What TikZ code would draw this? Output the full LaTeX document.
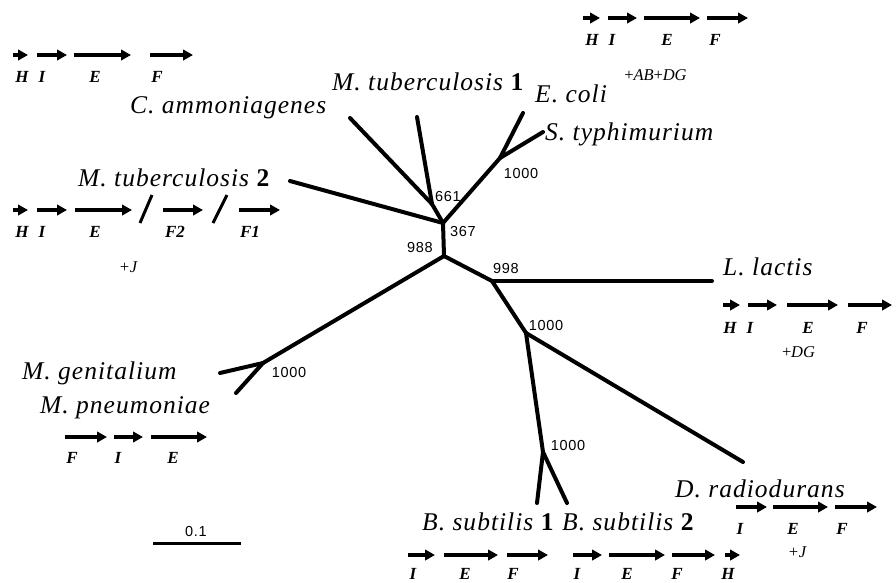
\documentclass[tikz,border=0pt]{standalone}
\usepackage{fontspec}
\setmainfont{Liberation Serif}
\newfontfamily\helv{Liberation Sans}
\usetikzlibrary{arrows.meta}
\newcommand{\spfont}{\fontsize{25.5}{25.5}\selectfont\itshape\addfontfeature{LetterSpace=4}}
\newcommand{\bootfont}{\helv\fontsize{14.5}{14.5}\selectfont\addfontfeature{LetterSpace=5}}
\newcommand{\genefont}{\fontsize{17}{17}\selectfont\bfseries\itshape}
\newcommand{\nb}[1]{\upshape\bfseries #1}
\begin{document}
\begin{tikzpicture}[x=1pt,y=-1pt,
  branch/.style={line width=4pt,line cap=round,line join=round},
  gene/.style={line width=3.6pt,-{Triangle[length=10pt,width=10.5pt]}},
  species/.style={font=\spfont,anchor=base west,inner sep=0pt},
  boot/.style={font=\bootfont,inner sep=0pt},
  glabel/.style={font=\genefont,inner sep=0pt},
  extra/.style={font=\fontsize{16.5}{16.5}\selectfont\itshape,inner sep=0pt}]
\useasboundingbox[fill=white] (0,0) rectangle (896,582);

% ---- tree: internal nodes ----
\coordinate (nA) at (443,223);   % 367
\coordinate (nB) at (444,256);   % 988
\coordinate (nM) at (432,204);   % 661
\coordinate (nE) at (500,158);   % E. coli / S. typhimurium
\coordinate (nL) at (492,281);   % 998
\coordinate (nD) at (526,333);   % 1000
\coordinate (nS) at (543,452);   % B. subtilis
\coordinate (nG) at (263,363);   % Mycoplasma
% ---- tree: leaves ----
\coordinate (lCa) at (350,118);
\coordinate (lMt1) at (417,117);
\coordinate (lMt2) at (290,181);
\coordinate (lEc) at (523,113);
\coordinate (lSt) at (543,132);
\coordinate (lLl) at (712,281);
\coordinate (lDr) at (743,462);
\coordinate (lBs1) at (537,503);
\coordinate (lBs2) at (567,503);
\coordinate (lMg) at (220,373);
\coordinate (lMp) at (236,393);

\draw[branch] (lCa) -- (nM);
\draw[branch] (lMt1) -- (nM);
\draw[branch] (nM) -- (nA);
\draw[branch] (lMt2) -- (nA);
\draw[branch] (nA) -- (nE);
\draw[branch] (nE) -- (lEc);
\draw[branch] (nE) -- (lSt);
\draw[branch] (nA) -- (nB);
\draw[branch] (nB) -- (nG);
\draw[branch] (nG) -- (lMg);
\draw[branch] (nG) -- (lMp);
\draw[branch] (nB) -- (nL);
\draw[branch] (nL) -- (lLl);
\draw[branch] (nL) -- (nD);
\draw[branch] (nD) -- (lDr);
\draw[branch] (nD) -- (nS);
\draw[branch] (nS) -- (lBs1);
\draw[branch] (nS) -- (lBs2);

% ---- bootstrap values ----
\node[boot] (b661) at (448,197) {661};
\node[boot] (b367) at (463,232) {367};
\node[boot] (b988) at (420,248) {988};
\node[boot] (b998) at (506,269) {998};
\node[boot] (b1000a) at (521,174) {1000};
\node[boot] (b1000b) at (546,325) {1000};
\node[boot] (b1000c) at (289,372) {1000};
\node[boot] (b1000d) at (568,445) {1000};

% ---- scale bar ----
\coordinate (sb1) at (153,543);
\coordinate (sb2) at (241,543);
\draw[line width=3pt] (sb1) -- (sb2);
\node[boot] (sbl) at (196,531) {0.1};

% ---- species names ----
\node[species] (sCa) at (130,113) {C. ammoniagenes};
\node[species] (sMt1) at (332,90) {M. tuberculosis \nb{1}};
\node[species] (sEc) at (535,102) {E. coli};
\node[species] (sSt) at (545,140) {S. typhimurium};
\node[species] (sMt2) at (78,186) {M. tuberculosis \nb{2}};
\node[species] (sLl) at (723,275) {L. lactis};
\node[species] (sMg) at (22,379) {M. genitalium};
\node[species] (sMp) at (40,413) {M. pneumoniae};
\node[species] (sDr) at (675,497) {D. radiodurans};
\node[species] (sBs1) at (422,530) {B. subtilis \nb{1}};
\node[species] (sBs2) at (562,530) {B. subtilis \nb{2}};

% ---- operon: top left ----
\draw[gene] (13,55) -- (28,55);
\draw[gene] (37,55) -- (67,55);
\draw[gene] (74,55) -- (131,55);
\draw[gene] (150,55) -- (193,55);
\node[glabel] (g1H) at (22,77) {H};
\node[glabel] (g1I) at (42,77) {I};
\node[glabel] (g1E) at (95,77) {E};
\node[glabel] (g1F) at (157,77) {F};

% ---- operon: top right ----
\draw[gene] (583,18) -- (600,18);
\draw[gene] (608,18) -- (637,18);
\draw[gene] (644,18) -- (700,18);
\draw[gene] (707,18) -- (748,18);
\node[glabel] (g2H) at (592,40) {H};
\node[glabel] (g2I) at (612,40) {I};
\node[glabel] (g2E) at (667,40) {E};
\node[glabel] (g2F) at (715,40) {F};
\node[extra] (x2) at (655,75) {+\kern-1pt AB\kern-1pt+\kern-1pt DG};

% ---- operon: M. tuberculosis 2 ----
\draw[gene] (13,210) -- (28,210);
\draw[gene] (37,210) -- (67,210);
\draw[gene] (75,210) -- (132,210);
\draw[line width=3pt] (140,223) -- (152,195);
\draw[gene] (163,210) -- (203,210);
\draw[line width=3pt] (213,223) -- (227,195);
\draw[gene] (239,210) -- (280,210);
\node[glabel] (g3H) at (22,232) {H};
\node[glabel] (g3I) at (42,232) {I};
\node[glabel] (g3E) at (95,232) {E};
\node[glabel] (g3F2) at (175,232) {F2};
\node[glabel] (g3F1) at (250,232) {F1};
\node[extra] (x3) at (128,267) {+J};

% ---- operon: L. lactis ----
\draw[gene] (723,305) -- (740,305);
\draw[gene] (748,305) -- (777,305);
\draw[gene] (787,305) -- (838,305);
\draw[gene] (848,305) -- (892,305);
\node[glabel] (g4H) at (730,328) {H};
\node[glabel] (g4I) at (750,328) {I};
\node[glabel] (g4E) at (808,328) {E};
\node[glabel] (g4F) at (862,328) {F};
\node[extra] (x4) at (798,352) {+\kern-1pt DG};

% ---- operon: M. pneumoniae ----
\draw[gene] (65,437) -- (107,437);
\draw[gene] (114,437) -- (143,437);
\draw[gene] (151,437) -- (207,437);
\node[glabel] (g5F) at (72,458) {F};
\node[glabel] (g5I) at (118,458) {I};
\node[glabel] (g5E) at (173,458) {E};

% ---- operon: D. radiodurans ----
\draw[gene] (736,507) -- (767,507);
\draw[gene] (773,507) -- (828,507);
\draw[gene] (835,507) -- (877,507);
\node[glabel] (g6I) at (740,529) {I};
\node[glabel] (g6E) at (793,529) {E};
\node[glabel] (g6F) at (842,529) {F};
\node[extra] (x6) at (797,552) {+J};

% ---- operons: B. subtilis ----
\draw[gene] (408,555) -- (435,555);
\draw[gene] (444,555) -- (498,555);
\draw[gene] (507,555) -- (548,555);
\draw[gene] (573,555) -- (602,555);
\draw[gene] (609,555) -- (665,555);
\draw[gene] (672,555) -- (715,555);
\draw[gene] (725,555) -- (740,555);
\node[glabel] (g7I) at (413,574) {I};
\node[glabel] (g7E) at (465,574) {E};
\node[glabel] (g7F) at (513,574) {F};
\node[glabel] (g8I) at (577,574) {I};
\node[glabel] (g8E) at (627,574) {E};
\node[glabel] (g8F) at (677,574) {F};
\node[glabel] (g8H) at (728,574) {H};
\end{tikzpicture}
\end{document}
